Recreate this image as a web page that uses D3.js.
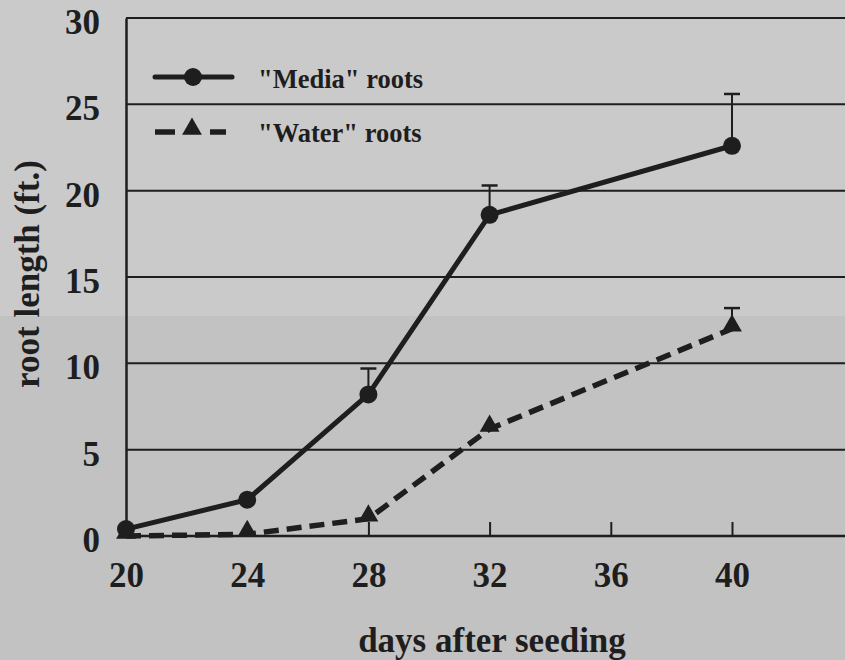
<!DOCTYPE html>
<html><head><meta charset="utf-8">
<script src="https://cdn.jsdelivr.net/npm/d3@7"></script>
<style>html,body{margin:0;padding:0;background:#c5c5c5;}svg{display:block;}</style>
</head><body>
<svg id="c" width="845" height="660"></svg>
<script>
const days = [20, 24, 28, 32, 40];
const xTicks = [20, 24, 28, 32, 36, 40];
const yTicks = [0, 5, 10, 15, 20, 25, 30];
const mediaValues = [0.4, 2.1, 8.2, 18.6, 22.6];
const mediaErrTop = [null, null, 9.7, 20.3, 25.6];
const waterValues = [0.0, 0.1, 1.0, 6.2, 12.0];
const waterErrTop = [null, null, null, null, 13.2];
const seriesNames = ['"Media" roots', '"Water" roots'];
const xTitle = "days after seeding";
const yTitle = "root length (ft.)";

const svg = d3.select("#c");
const font = "'Liberation Serif','Times New Roman',serif";
const x = d3.scaleLinear().domain([20, 40]).range([126, 732]);
const y = d3.scaleLinear().domain([0, 30]).range([536, 18]);
const ink = "#1e1e1e";

// background shading (scan tone)
svg.append("rect").attr("x",0).attr("y",0).attr("width",845).attr("height",660).attr("fill","#c2c2c2");
svg.append("rect").attr("x",0).attr("y",0).attr("width",845).attr("height",316).attr("fill","#cacaca");

// gridlines
svg.append("g").selectAll("line").data(yTicks.filter(d=>d>0)).join("line")
  .attr("x1", x(20)).attr("x2", 845).attr("y1", d=>y(d)).attr("y2", d=>y(d))
  .attr("stroke", ink).attr("stroke-width", 2);

// x axis
const xAxis = d3.axisBottom(x).tickValues(xTicks).tickSize(-14).tickPadding(26).tickFormat(d3.format("d"));
const gx = svg.append("g").attr("transform", `translate(0,${y(0)})`).call(xAxis);
gx.select(".domain").attr("d", `M${x(20)},0H845`).attr("stroke", ink).attr("stroke-width", 2.5);
gx.selectAll(".tick line").attr("stroke", ink).attr("stroke-width", 2);
gx.selectAll(".tick text").attr("font-family", font).attr("font-weight", "bold").attr("font-size", 35).attr("fill", ink).attr("dy", "0.71em");

// y axis
const yAxis = d3.axisLeft(y).tickValues(yTicks).tickSize(0).tickPadding(26).tickFormat(d3.format("d"));
const gy = svg.append("g").attr("transform", `translate(${x(20)},0)`).call(yAxis);
gy.select(".domain").attr("stroke", ink).attr("stroke-width", 2.5);
gy.selectAll(".tick text").attr("font-family", font).attr("font-weight", "bold").attr("font-size", 35).attr("fill", ink).attr("dy", "0.44em");

// axis titles
svg.append("text").attr("x", 492).attr("y", 652).attr("text-anchor","middle")
  .attr("font-family", font).attr("font-weight","bold").attr("font-size", 35).attr("fill", ink).text(xTitle);
svg.append("text").attr("transform","translate(39,274) rotate(-90)").attr("text-anchor","middle")
  .attr("font-family", font).attr("font-weight","bold").attr("font-size", 35).attr("fill", ink).text(yTitle);

const line = d3.line().x((d,i)=>x(days[i])).y(d=>y(d));
const tri = d3.symbol().type(d3.symbolTriangle).size(170);

function errBars(vals, tops) {
  const g = svg.append("g");
  tops.forEach((t,i)=>{
    if (t == null) return;
    g.append("line").attr("x1", x(days[i])).attr("x2", x(days[i])).attr("y1", y(vals[i])).attr("y2", y(t))
      .attr("stroke", ink).attr("stroke-width", 2);
    g.append("line").attr("x1", x(days[i])-8).attr("x2", x(days[i])+8).attr("y1", y(t)).attr("y2", y(t))
      .attr("stroke", ink).attr("stroke-width", 2.5);
  });
}
errBars(mediaValues, mediaErrTop);
errBars(waterValues, waterErrTop);

// water series
svg.append("path").datum(waterValues).attr("d", line).attr("fill","none")
  .attr("stroke", ink).attr("stroke-width", 5.5).attr("stroke-dasharray", "15,8");
svg.append("g").selectAll("path").data(waterValues).join("path")
  .attr("d", tri).attr("transform", (d,i)=>`translate(${x(days[i])},${y(d)-3})`).attr("fill", ink);

// media series
svg.append("path").datum(mediaValues).attr("d", line).attr("fill","none")
  .attr("stroke", ink).attr("stroke-width", 5);
svg.append("g").selectAll("circle").data(mediaValues).join("circle")
  .attr("cx", (d,i)=>x(days[i])).attr("cy", d=>y(d)).attr("r", 9).attr("fill", ink);

// legend
const lg = svg.append("g");
lg.append("line").attr("x1",155).attr("x2",232).attr("y1",77).attr("y2",77).attr("stroke",ink).attr("stroke-width",5).attr("stroke-linecap","round");
lg.append("circle").attr("cx",193).attr("cy",77).attr("r",9).attr("fill",ink);
lg.append("line").attr("x1",155).attr("x2",226).attr("y1",132).attr("y2",132).attr("stroke",ink).attr("stroke-width",5.5).attr("stroke-dasharray","20,35");
lg.append("path").attr("d", tri).attr("transform","translate(192,129)").attr("fill",ink);
lg.selectAll("text").data(seriesNames).join("text")
  .attr("x", 258).attr("y", (d,i)=>88 + i*54)
  .attr("font-family", font).attr("font-weight","bold").attr("font-size", 26.5).attr("fill", ink).text(d=>d);
</script>
</body></html>
